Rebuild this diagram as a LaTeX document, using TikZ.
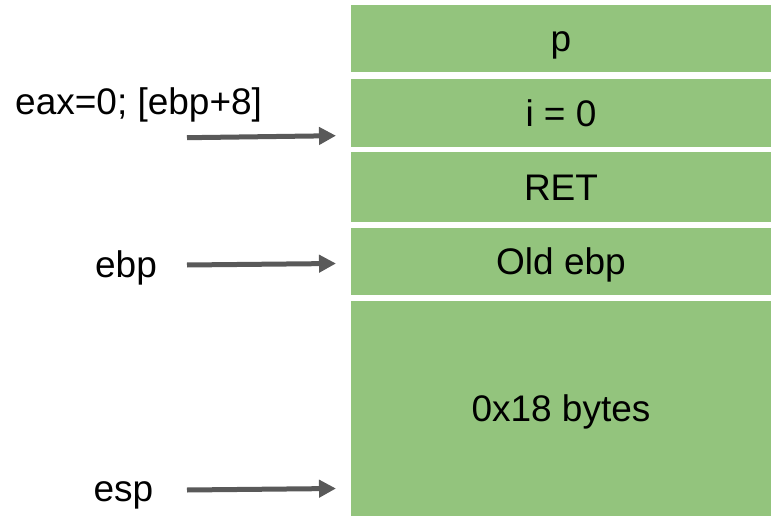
\documentclass[tikz,border=0pt]{standalone}
\usepackage{fontspec}
\setmainfont{Liberation Sans}
\usetikzlibrary{arrows.meta}
\definecolor{cellgreen}{RGB}{147,196,125}
\definecolor{arrowgray}{RGB}{89,89,89}
\begin{document}
\begin{tikzpicture}[x=1pt,y=-1pt,
  cell/.style={fill=cellgreen, draw=none, inner sep=0pt, minimum width=420pt,
    text height=26.6pt, text depth=0pt, font=\fontsize{37}{40}\selectfont},
  lbl/.style={inner sep=0pt, font=\fontsize{37}{40}\selectfont},
  ptr/.style={draw=arrowgray, line width=5pt,
    -{Triangle[length=17pt,width=17pt]}}]
  \useasboundingbox (0,0) rectangle (771,516);
  % stack frame cells, top to bottom
  \node[cell, minimum height=67pt]  (p)    at (561,38.5)  {p};
  \node[cell, minimum height=68pt]  (i)    at (561,113)   {i = 0};
  \node[cell, minimum height=70pt]  (ret)  at (561,187)   {RET};
  \node[cell, minimum height=67pt]  (oeb)  at (561,261.5) {Old ebp};
  \node[cell, minimum height=215pt] (buf)  at (561,408.5) {0x18 bytes};
  % register labels
  \node[lbl, anchor=base west] (leax) at (15,115)  {eax=0; [ebp+8]};
  \node[lbl, anchor=base]      (lebp) at (126,277) {ebp};
  \node[lbl, anchor=base]      (lesp) at (123.5,501) {esp};
  % pointer arrows
  \coordinate (s1) at (187,137.7); \coordinate (e1) at (336,135.7);
  \coordinate (s2) at (187,265);   \coordinate (e2) at (336,263.5);
  \coordinate (s3) at (187,490);   \coordinate (e3) at (336,488.5);
  \draw[ptr] (s1) -- (e1);
  \draw[ptr] (s2) -- (e2);
  \draw[ptr] (s3) -- (e3);
\end{tikzpicture}
\end{document}
